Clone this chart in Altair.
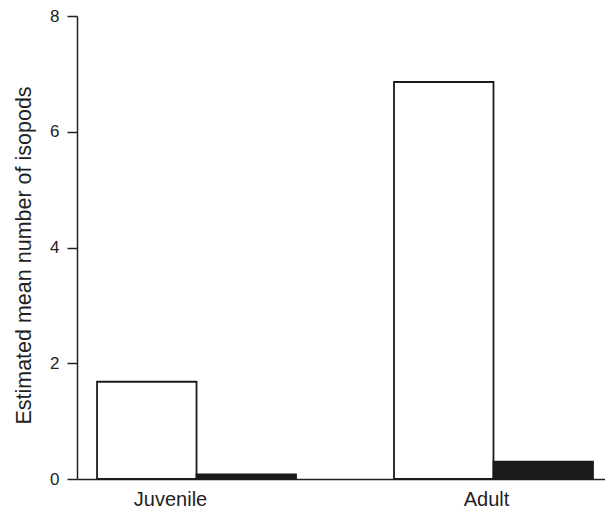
import altair as alt
import pandas as pd

stages = ["Juvenile", "Adult"]
groups = ["open", "filled"]
juvenile_values = [1.68, 0.08]
adult_values = [6.86, 0.30]

rows = []
for g, v in zip(groups, juvenile_values):
    rows.append({"stage": "Juvenile", "group": g, "value": v})
for g, v in zip(groups, adult_values):
    rows.append({"stage": "Adult", "group": g, "value": v})
df = pd.DataFrame(rows)

FONT = "Liberation Sans"

chart = alt.Chart(df).mark_bar(stroke="#1a1a1a", strokeWidth=1.8).encode(
    x=alt.X("stage:N", sort=stages, title=None,
            scale=alt.Scale(paddingInner=0.33, paddingOuter=0.054, align=0.625),
            axis=alt.Axis(labelAngle=0, ticks=False, labelPadding=10, labelFontSize=20,
                          labelFont=FONT, labelColor="#222", domainColor="#222",
                          domainWidth=1.5,
                          labelOffset={"condition": {"test": "datum.value === 'Juvenile'", "value": -26},
                                       "value": -7},
                          grid=False)),
    xOffset=alt.XOffset("group:N", sort=groups,
                        scale=alt.Scale(paddingInner=0, paddingOuter=0)),
    y=alt.Y("value:Q", title="Estimated mean number of isopods",
            scale=alt.Scale(domain=[0, 8], nice=False),
            axis=alt.Axis(values=[0, 2, 4, 6, 8], tickSize=10, labelPadding=8,
                          labelFontSize=17, labelFont=FONT, labelColor="#222",
                          titleFont=FONT, titleFontSize=21.5, titleFontWeight="normal",
                          titleColor="#222", titleX=-53, titleY=239, titleBaseline="middle",
                          domainColor="#222", domainWidth=1.5, tickColor="#222",
                          tickWidth=1.5, grid=False)),
    fill=alt.Fill("group:N", sort=groups,
                  scale=alt.Scale(domain=groups, range=["white", "#1a1a1a"]),
                  legend=None),
).properties(
    width=528, height=463,
    autosize=alt.AutoSizeParams(type="none"),
    padding={"left": 69, "top": 8, "right": 0, "bottom": 31},
).configure_view(stroke=None)

chart.save("out.html", embed_options={"renderer": "svg", "actions": False})
